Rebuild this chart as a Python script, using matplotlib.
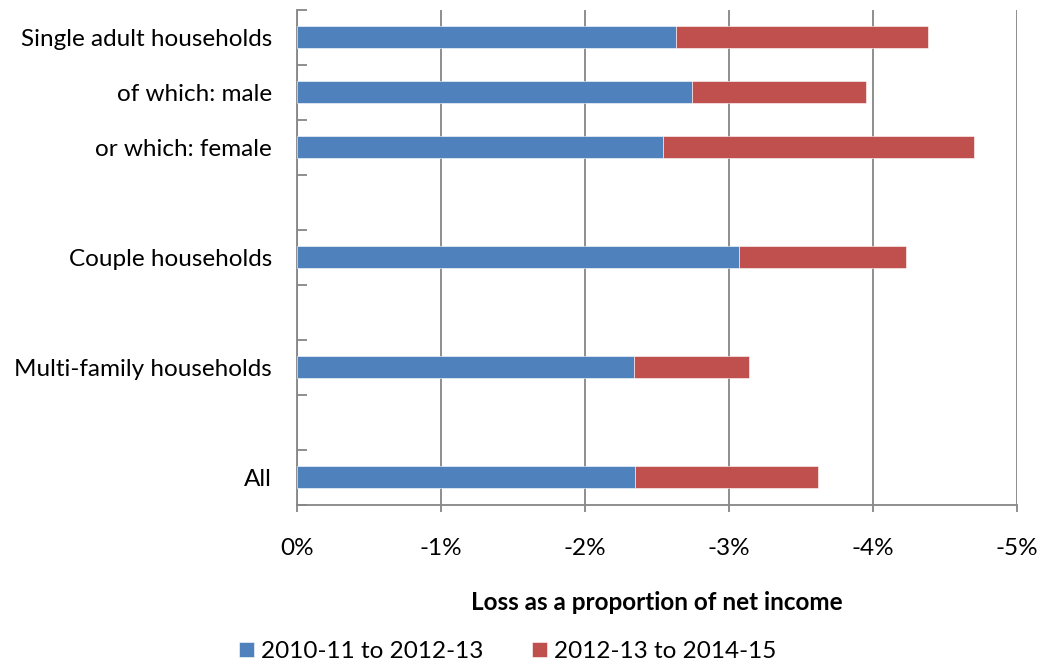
import numpy as np
import matplotlib.pyplot as plt
from matplotlib.ticker import FuncFormatter

plt.rcParams['font.family'] = ['Lato', 'DejaVu Sans']

# Data (blank entries are the gaps between groups)
categories = ['Single adult households', 'of which: male', 'or which: female', '',
              'Couple households', '', 'Multi-family households', '', 'All']
first_period = [-2.63, -2.74, -2.54, np.nan, -3.07, np.nan, -2.34, np.nan, -2.35]
second_period = [-1.75, -1.21, -2.16, np.nan, -1.16, np.nan, -0.80, np.nan, -1.27]
series_names = ['2010-11 to 2012-13', '2012-13 to 2014-15']
x_ticks = [0, -1, -2, -3, -4, -5]

blue = '#4F81BD'
red = '#C0504D'
grey = '#868686'

fig = plt.figure(figsize=(10.43, 6.64), dpi=100)
ax = fig.add_axes([0.2848, 0.2395, 0.6903, 0.7455])

y = np.arange(len(categories))
ax.barh(y, first_period, height=0.4, color=blue, edgecolor='white', linewidth=0.4,
        label=series_names[0], zorder=3)
ax.barh(y, second_period, left=first_period, height=0.4, color=red, edgecolor='white',
        linewidth=0.4, label=series_names[1], zorder=3)

# x axis: 0% on the left, growing losses to the right
ax.set_xlim(0, -5)
ax.set_xticks(x_ticks)
ax.xaxis.set_major_formatter(FuncFormatter(lambda v, p: '%d%%' % round(v)))
ax.grid(axis='x', color=grey, linewidth=1.3, zorder=0)
ax.tick_params(axis='x', direction='out', length=5, width=1.3, color=grey,
               labelsize=17.5, pad=19)

# y axis: tick marks on the slot boundaries, labels on the slot centres
ax.set_ylim(len(categories) - 0.5, -0.5)
ax.set_yticks(np.arange(len(categories) + 1) - 0.5)
ax.set_yticklabels([])
ax.tick_params(axis='y', which='major', direction='in', length=7, width=1.3, color=grey)
ax.set_yticks(y, minor=True)
ax.set_yticklabels(categories, minor=True)
ax.tick_params(axis='y', which='minor', length=0, labelsize=17.5, pad=18)

for side in ['top', 'right']:
    ax.spines[side].set_visible(False)
for side in ['left', 'bottom']:
    ax.spines[side].set_color(grey)
    ax.spines[side].set_linewidth(1.3)

ax.set_xlabel('Loss as a proportion of net income', fontsize=17.5, fontweight='bold',
              labelpad=23)

fig.legend(loc='lower center', bbox_to_anchor=(0.487, -0.03), ncol=2, frameon=False,
           fontsize=17.5, handlelength=0.6, handleheight=0.6, handletextpad=0.3,
           columnspacing=2.0)

fig.savefig('out.png', dpi=100)
